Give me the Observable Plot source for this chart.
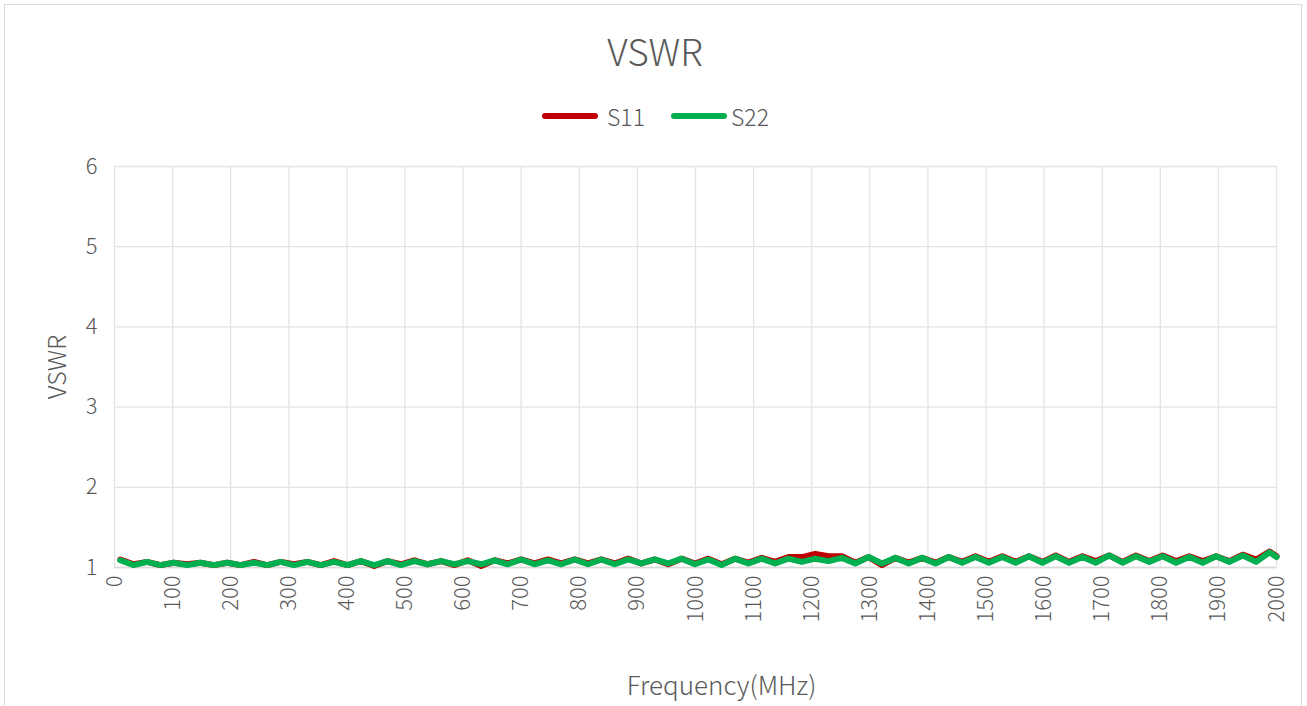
<!DOCTYPE html>
<html>
<head>
<meta charset="utf-8">
<script src="https://cdn.jsdelivr.net/npm/d3@7"></script>
<script src="https://cdn.jsdelivr.net/npm/@observablehq/plot@0.6"></script>
<style>
  html, body { margin: 0; padding: 0; background: #fff; }
  #wrap { position: relative; width: 1307px; height: 706px; overflow: hidden; font-family: "Noto Sans CJK SC", "Noto Sans", sans-serif; color: #595959; }
  #frame { position: absolute; left: 4px; top: 4px; width: 1298px; height: 720px; border: 1px solid #d9d9d9; box-sizing: border-box; }
  #title { position: absolute; left: 0; width: 1310px; top: 27px; text-align: center; font-size: 37px; font-weight: 300; line-height: 46px; }
  .sw { position: absolute; height: 6px; border-radius: 3px; top: 113px; }
  .lt { position: absolute; top: 101px; font-size: 23px; font-weight: 300; line-height: 30px; }
  #chart { position: absolute; left: 0; top: 140px; }
</style>
</head>
<body>
<div id="wrap">
  <div id="frame"></div>
  <div id="title">VSWR</div>
  <div id="chart"></div>
</div>
<script>
const seriesNames = ["S11", "S22"];
const seriesColors = ["#c00000", "#00b050"];
const freq = [10,33,56,79,102,125,148,171,194,217,240,263,286,309,332,355,378,401,424,447,470,493,516,539,562,585,608,631,654,677,700,723,746,769,792,815,838,861,884,907,930,953,976,999,1022,1045,1068,1091,1114,1137,1160,1183,1206,1229,1252,1275,1298,1321,1344,1367,1390,1413,1436,1459,1482,1505,1528,1551,1574,1597,1620,1643,1666,1689,1712,1735,1758,1781,1804,1827,1850,1873,1896,1919,1942,1965,1988,2000];
const s11 = [1.10,1.04,1.07,1.03,1.06,1.04,1.06,1.03,1.06,1.03,1.07,1.03,1.07,1.04,1.07,1.03,1.08,1.03,1.08,1.02,1.08,1.04,1.09,1.04,1.08,1.03,1.09,1.02,1.09,1.05,1.10,1.05,1.10,1.05,1.10,1.05,1.10,1.05,1.11,1.05,1.10,1.04,1.11,1.05,1.11,1.04,1.11,1.06,1.12,1.07,1.13,1.13,1.17,1.14,1.14,1.06,1.13,1.03,1.12,1.06,1.12,1.06,1.13,1.07,1.14,1.07,1.14,1.07,1.14,1.07,1.15,1.07,1.14,1.08,1.15,1.07,1.15,1.08,1.15,1.08,1.14,1.08,1.14,1.08,1.16,1.10,1.20,1.14];
const s22 = [1.09,1.03,1.07,1.03,1.06,1.03,1.06,1.03,1.06,1.03,1.06,1.03,1.07,1.03,1.07,1.03,1.07,1.03,1.08,1.03,1.08,1.03,1.08,1.04,1.08,1.04,1.08,1.04,1.09,1.04,1.10,1.04,1.09,1.04,1.10,1.04,1.10,1.04,1.10,1.05,1.10,1.05,1.11,1.04,1.10,1.03,1.11,1.05,1.11,1.05,1.11,1.07,1.11,1.08,1.12,1.05,1.13,1.05,1.12,1.05,1.12,1.05,1.13,1.06,1.13,1.06,1.13,1.06,1.14,1.06,1.14,1.06,1.13,1.06,1.15,1.06,1.14,1.07,1.14,1.06,1.13,1.06,1.14,1.07,1.15,1.07,1.19,1.13];
const xTicks = [0,100,200,300,400,500,600,700,800,900,1000,1100,1200,1300,1400,1500,1600,1700,1800,1900,2000];
const yTicks = [1,2,3,4,5,6];

const data = [];
freq.forEach((f, i) => {
  data.push({series: "S11", f, v: s11[i]});
  data.push({series: "S22", f, v: s22[i]});
});

// legend (HTML, above the SVG)
const wrap = document.getElementById("wrap");
const legendPos = [{sw: 542, tx: 607}, {sw: 671, tx: 731}];
seriesNames.forEach((n, i) => {
  const sw = document.createElement("div");
  sw.className = "sw";
  sw.style.left = legendPos[i].sw + "px";
  sw.style.width = "56px";
  sw.style.background = seriesColors[i];
  wrap.appendChild(sw);
  const t = document.createElement("div");
  t.className = "lt";
  t.style.left = legendPos[i].tx + "px";
  t.textContent = n;
  wrap.appendChild(t);
});

const chart = Plot.plot({
  width: 1307,
  height: 566,
  marginLeft: 114,
  marginRight: 31,
  marginTop: 26,
  marginBottom: 139,
  style: { fontFamily: '"Noto Sans CJK SC", "Noto Sans", sans-serif', fontSize: "22px", color: "#595959", background: "transparent", fontWeight: 300 },
  x: { domain: [0, 2000] },
  y: { domain: [1, 6] },
  color: { domain: seriesNames, range: seriesColors },
  marks: [
    Plot.gridX(xTicks, { stroke: "#e3e3e3", strokeOpacity: 1, strokeWidth: 1.3 }),
    Plot.gridY(yTicks, { stroke: "#e3e3e3", strokeOpacity: 1, strokeWidth: 1.3 }),
    Plot.ruleY([1], { stroke: "#d9d9d9", strokeWidth: 1.5 }),
    Plot.axisX(xTicks, { tickSize: 0, tickPadding: 8, tickRotate: -90, tickFormat: d => String(d), fill: "#595959", fontSize: 22, label: null }),
    Plot.axisY(yTicks, { tickSize: 0, tickPadding: 17, tickFormat: d => String(d), fill: "#595959", fontSize: 22, label: null }),
    Plot.text(["Frequency(MHz)"], { frameAnchor: "bottom", x: [1045], dy: 127, text: d => d, fontSize: 26, fill: "#595959" }),
    Plot.text(["VSWR"], { frameAnchor: "left", dx: -57, rotate: -90, textAnchor: "middle", text: d => d, fontSize: 25, fill: "#595959" }),
    Plot.line(data, { x: "f", y: "v", z: "series", stroke: "series", strokeWidth: 6, strokeLinejoin: "round", strokeLinecap: "round" })
  ]
});
document.getElementById("chart").appendChild(chart);
</script>
</body>
</html>
